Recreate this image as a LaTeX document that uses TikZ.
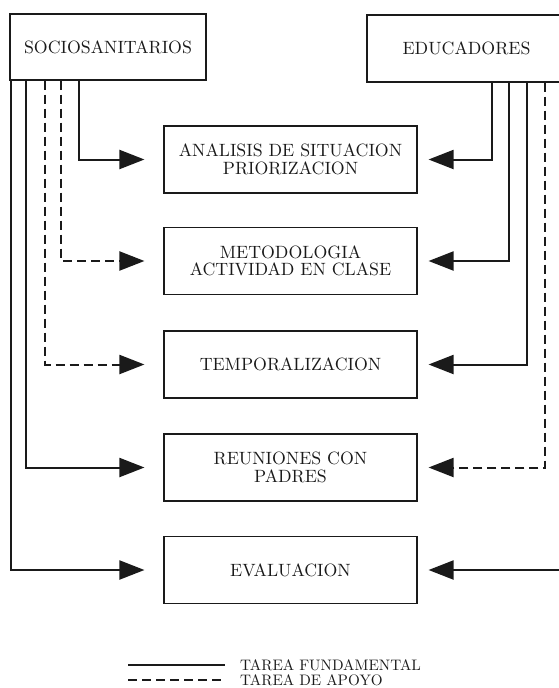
\documentclass[tikz,border=0pt]{standalone}
\usepackage{fontspec}
\setmainfont{lmroman10-regular.otf}
\usepackage{tikz}
\usetikzlibrary{arrows.meta,calc}
\definecolor{ink}{HTML}{1A1A1A}
\newcommand\boxfont{\fontsize{17.8}{17.5}\selectfont}
\newcommand\legfont{\fontsize{15.2}{12}\selectfont}
\tikzset{
  box/.style={draw=ink, line width=1.1pt, minimum width=253pt, minimum height=67pt,
    inner sep=0pt, align=center, text=ink, font=\boxfont},
  who/.style={box, minimum height=66pt},
  fund/.style={draw=ink, line width=2pt, -{Triangle[length=25pt,width=19pt]}},
  apoyo/.style={fund, dash pattern=on 9pt off 5pt},
  lgap/.style={shorten >=19pt},
  rgap/.style={shorten >=11pt},
  legline/.style={draw=ink, line width=2pt},
  leg/.style={anchor=base west, inner sep=0pt, text=ink, font=\legfont}
}

\begin{document}
\begin{tikzpicture}[x=1pt,y=-1pt]
  \clip (0,0) rectangle (559,688);

  \node[who, minimum width=196pt] (socio) at (108,47) {SOCIOSANITARIOS};
  \node[who, minimum width=199pt, minimum height=67pt] (edu) at (466.5,48.5) {EDUCADORES};

  \node[box] (ana) at (290.5,159.5) {ANALISIS DE SITUACION\\PRIORIZACION};
  \node[box] (met) at (290.5,261) {METODOLOGIA\\ACTIVIDAD EN CLASE};
  \node[box] (temp) at (290.5,364.5) {TEMPORALIZACION};
  \node[box] (reu) at (290.5,467.5) {REUNIONES CON\\PADRES};
  \node[box] (eval) at (290.5,570) {EVALUACION};

  % sociosanitarios
  \draw[fund,lgap] ([xshift=70pt]socio.south west) |- (ana);
  \draw[apoyo,lgap] ([xshift=52pt]socio.south west) |- (met);
  \draw[apoyo,lgap] ([xshift=36pt]socio.south west) |- (temp);
  \draw[fund,lgap] ([xshift=17pt]socio.south west) |- (reu);
  \draw[fund,lgap] ([xshift=2pt]socio.south west) |- (eval);

  % educadores
  \draw[fund,rgap] ([xshift=126pt]edu.south west) |- (ana);
  \draw[fund,rgap] ([xshift=143pt]edu.south west) |- (met);
  \draw[fund,rgap] ([xshift=161pt]edu.south west) |- (temp);
  \draw[apoyo,rgap] ([xshift=179pt]edu.south west) |- (reu);
  \draw[fund,rgap] ([xshift=195pt]edu.south west) |- (eval);

  % leyenda
  \coordinate (lf1) at (128,665);
  \coordinate (lf2) at (225,665);
  \coordinate (la1) at (128,680);
  \coordinate (la2) at (225,680);
  \draw[legline] (lf1) -- (lf2);
  \draw[legline, dash pattern=on 9pt off 5pt] (la1) -- (la2);
  \node[leg] (fundtxt) at (240,670) {TAREA FUNDAMENTAL};
  \node[leg] (apoyotxt) at (240,685.5) {TAREA DE APOYO};
\end{tikzpicture}
\end{document}
